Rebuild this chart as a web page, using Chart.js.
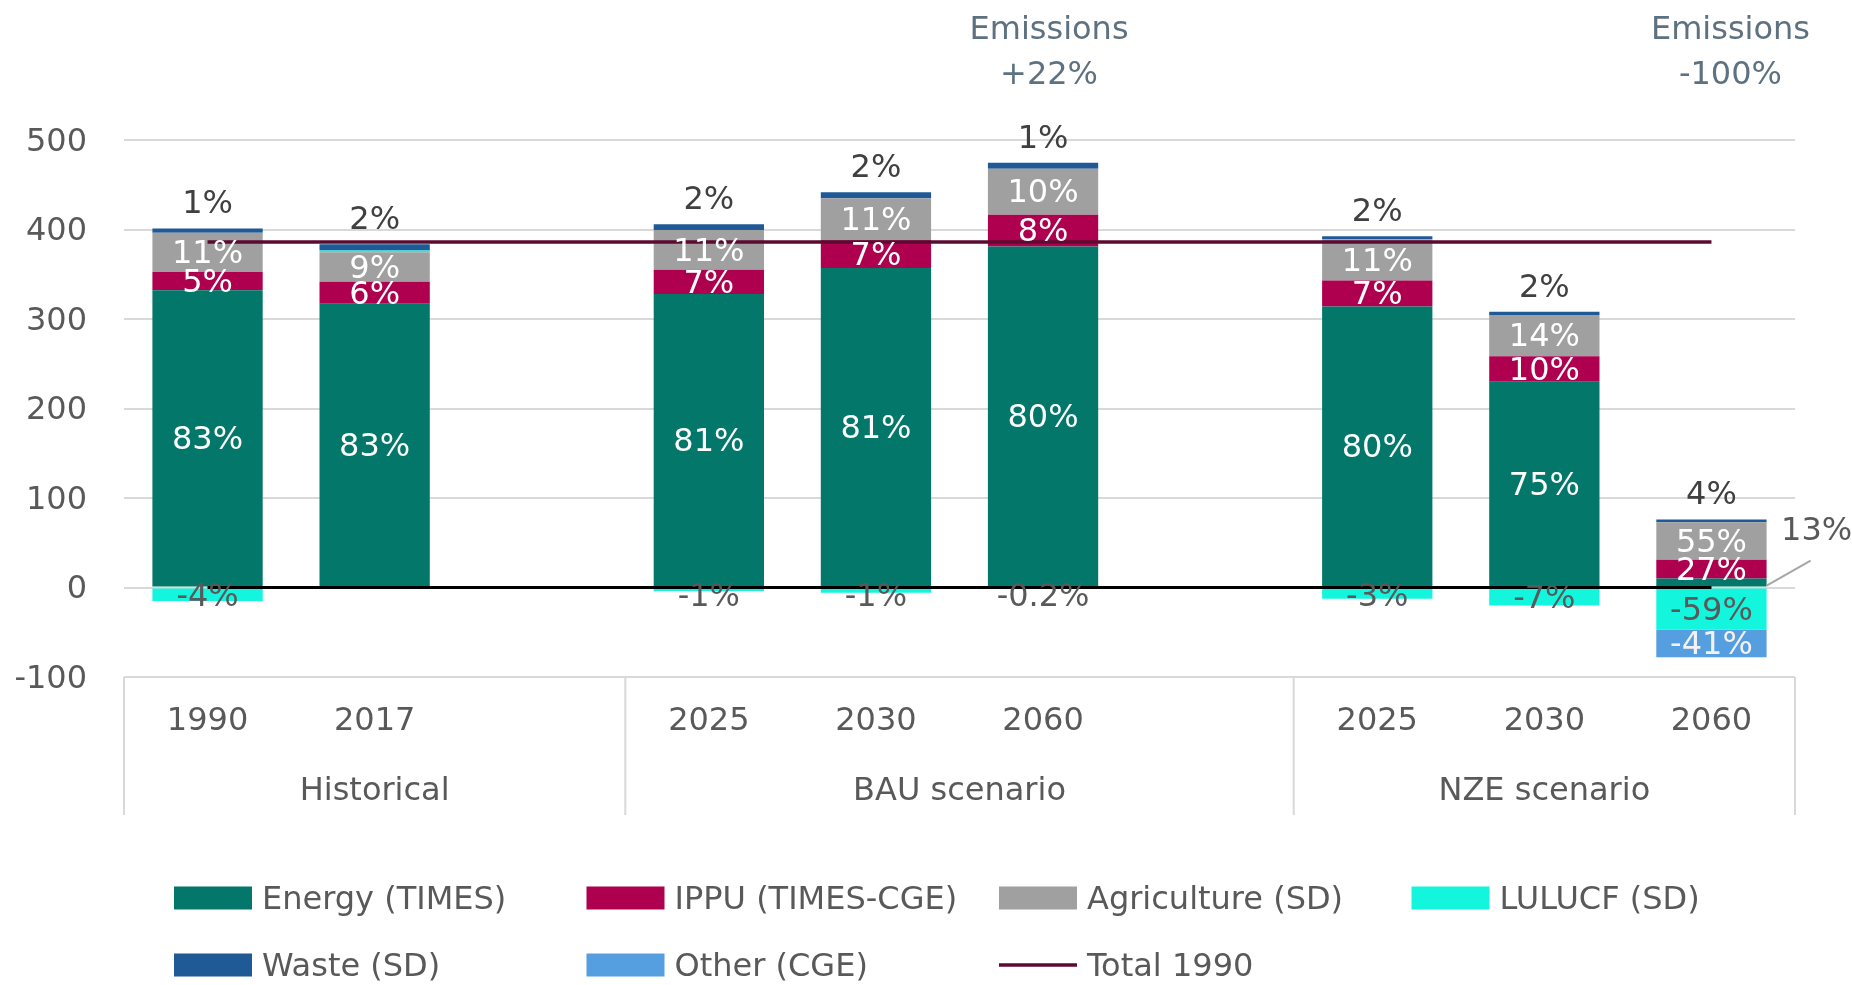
<!DOCTYPE html>
<html>
  <head>
    <script src="https://cdn.jsdelivr.net/npm/chart.js@4.4.0/dist/chart.umd.min.js"></script>
    <style>
      body {
        margin: 0;
        background-color: white;
      }
      #wrap {
        width: 1852px;
        height: 985px;
      }
    </style>
  </head>
  <body>
    <div id="wrap"><canvas id="emissionsChart"></canvas></div>
  <script>
    // x axis slots, '' marks the empty slot between groups
    let years = ['1990', '2017', '', '2025', '2030', '2060', '', '2025', '2030', '2060'];
    let groupNames = ['Historical', 'BAU scenario', 'NZE scenario'];
    let groupEdges = [0, 3, 7, 10];

    // emissions per sector (Mt CO2-eq)
    let energy  = [332, 317, null, 328, 357, 381, null, 314, 230, 10];
    let ippu    = [20.5, 24.5, null, 27, 31, 35.5, null, 29, 28.5, 21];
    let agri    = [44, 33, null, 44.5, 47, 51.5, null, 46, 46, 42];
    let lulucf  = [-15, 2, null, -4, -6, -1, null, -12.5, -20, -47];
    let waste   = [4.5, 7, null, 6.5, 6.5, 6.5, null, 3.5, 3.5, 3];
    let other   = [null, null, null, null, null, null, null, null, null, -31];
    let total1990 = [386, 386, 386, 386, 386, 386, 386, 386, 386, 386];
    let zeroLine  = [0, 0, 0, 0, 0, 0, 0, 0, 0, 0];

    // share labels as printed on the bars
    let energyShare = ['83%', '83%', '', '81%', '81%', '80%', '', '80%', '75%', '13%'];
    let ippuShare   = ['5%', '6%', '', '7%', '7%', '8%', '', '7%', '10%', '27%'];
    let agriShare   = ['11%', '9%', '', '11%', '11%', '10%', '', '11%', '14%', '55%'];
    let lulucfShare = ['-4%', '', '', '-1%', '-1%', '-0.2%', '', '-3%', '-7%', '-59%'];
    let wasteShare  = ['1%', '2%', '', '2%', '2%', '1%', '', '2%', '2%', '4%'];
    let otherShare  = ['', '', '', '', '', '', '', '', '', '-41%'];

    // change vs 1990 written over the 2060 bars
    let noteSlots = [5, 9];
    let noteTexts = ['+22%', '-100%'];

    const FONT = 'DejaVu Sans';
    const DY = 2.5; // nudge text down to sit like the original
    Chart.defaults.font.family = FONT;
    Chart.defaults.font.size = 32;
    Chart.defaults.color = '#595959';

    // labels on and around the bars
    const barLabels = {
      id: 'barLabels',
      afterDatasetsDraw(chart) {
        const ctx = chart.ctx;
        const zeroY = chart.scales.y.getPixelForValue(0);
        ctx.save();
        ctx.font = '32px ' + FONT;
        ctx.textAlign = 'center';
        ctx.textBaseline = 'middle';
        chart.data.datasets.forEach(function (ds, di) {
          if (!ds.shares) return;
          const meta = chart.getDatasetMeta(di);
          meta.data.forEach(function (bar, i) {
            const txt = ds.shares[i];
            if (!txt) return;
            const top = Math.min(bar.y, bar.base);
            const bottom = Math.max(bar.y, bar.base);
            let cy = (top + bottom) / 2;
            ctx.fillStyle = ds.shareColor;
            if (ds.sharePos === 'above') {
              ctx.fillText(txt, bar.x, top - 26 + DY);
            } else if (ds.sharePos === 'side' && bottom - top < 14) {
              // too thin: put it outside with a leader line
              const right = bar.x + bar.width / 2;
              ctx.strokeStyle = '#a6a6a6';
              ctx.lineWidth = 2;
              ctx.beginPath();
              ctx.moveTo(right, cy + 3);
              ctx.lineTo(right + 44, cy - 22);
              ctx.stroke();
              ctx.fillStyle = '#595959';
              ctx.fillText(txt, right + 50, cy - 53 + DY);
            } else {
              if (ds.sharePos === 'below0') cy = Math.max(cy, zeroY + 8);
              ctx.fillText(txt, bar.x, cy + DY);
            }
          });
        });
        ctx.restore();
      }
    };

    // group labels, separators, notes and the legend
    const extras = {
      id: 'extras',
      afterDraw(chart) {
        const ctx = chart.ctx;
        const area = chart.chartArea;
        const xs = chart.scales.x;
        const slotW = (area.right - area.left) / years.length;
        ctx.save();

        ctx.strokeStyle = '#d9d9d9';
        ctx.lineWidth = 2;
        groupEdges.forEach(function (e) {
          const x = area.left + e * slotW;
          ctx.beginPath();
          ctx.moveTo(x, area.bottom);
          ctx.lineTo(x, 815);
          ctx.stroke();
        });

        ctx.font = '32px ' + FONT;
        ctx.textAlign = 'center';
        ctx.textBaseline = 'middle';
        ctx.fillStyle = '#595959';
        groupNames.forEach(function (name, g) {
          const mid = area.left + (groupEdges[g] + groupEdges[g + 1]) / 2 * slotW;
          ctx.fillText(name, mid, 789 + DY);
        });

        ctx.fillStyle = '#5e7180';
        noteSlots.forEach(function (slot, k) {
          const x = xs.getPixelForValue(slot) + (k === 0 ? 6 : 19);
          ctx.fillText('Emissions', x, 28 + DY);
          ctx.fillText(noteTexts[k], x, 73 + DY);
        });

        const items = chart.data.datasets.filter(function (ds) { return !ds.hideInLegend; });
        items.forEach(function (ds, k) {
          const x = 174 + (k % 4) * 412.5;
          const y = 898 + Math.floor(k / 4) * 67;
          if (ds.type === 'line') {
            ctx.strokeStyle = ds.borderColor;
            ctx.lineWidth = 3.5;
            ctx.beginPath();
            ctx.moveTo(x, y);
            ctx.lineTo(x + 78, y);
            ctx.stroke();
          } else {
            ctx.fillStyle = ds.backgroundColor;
            ctx.fillRect(x, y - 11.5, 78, 23);
          }
          ctx.fillStyle = '#595959';
          ctx.textAlign = 'left';
          ctx.fillText(ds.label, x + 88, y + DY);
        });
        ctx.restore();
      }
    };

    function bar(label, data, color, shares, shareColor, sharePos) {
      return {
        type: 'bar', label: label, data: data, backgroundColor: color,
        borderWidth: 0, order: 2,
        shares: shares, shareColor: shareColor, sharePos: sharePos
      };
    }

    var ctx = document.getElementById('emissionsChart').getContext('2d');
    var emissionsChart = new Chart(ctx, {
      data: {
        labels: years,
        datasets: [
          bar('Energy (TIMES)', energy, '#02776a', energyShare, '#ffffff', 'side'),
          bar('IPPU (TIMES-CGE)', ippu, '#ae004f', ippuShare, '#ffffff', 'center'),
          bar('Agriculture (SD)', agri, '#a0a0a0', agriShare, '#ffffff', 'center'),
          bar('LULUCF (SD)', lulucf, '#14f5dd', lulucfShare, '#595959', 'below0'),
          bar('Waste (SD)', waste, '#1f5a96', wasteShare, '#404040', 'above'),
          bar('Other (CGE)', other, '#559ee0', otherShare, '#f2f2f2', 'center'),
          {
            type: 'line', label: 'Total 1990', data: total1990, stack: 'total', order: 1,
            borderColor: '#5c0b30', borderWidth: 3.5, pointRadius: 0, fill: false
          },
          {
            type: 'line', label: 'zero', data: zeroLine, stack: 'zero', order: 1, hideInLegend: true,
            borderColor: '#000000', borderWidth: 3, pointRadius: 0, fill: false
          }
        ]
      },
      options: {
        responsive: true,
        maintainAspectRatio: false,
        animation: false,
        layout: { padding: { top: 140, right: 57, left: 0, bottom: 0 } },
        datasets: { bar: { categoryPercentage: 1, barPercentage: 0.66 } },
        plugins: { legend: { display: false }, tooltip: { enabled: false } },
        scales: {
          x: {
            stacked: true,
            grid: { display: false, drawTicks: false },
            border: { display: false },
            ticks: { padding: 25.5, color: '#595959', maxRotation: 0, autoSkip: false },
            afterFit: function (scale) { scale.height = 308; }
          },
          y: {
            stacked: true,
            min: -100,
            max: 500,
            ticks: { stepSize: 100, padding: 37, color: '#595959', labelOffset: DY },
            grid: { color: '#d9d9d9', lineWidth: 2, drawTicks: false },
            border: { display: false },
            afterFit: function (scale) { scale.width = 124; }
          }
        }
      },
      plugins: [barLabels, extras]
    });
  </script>
  </body>
</html>
